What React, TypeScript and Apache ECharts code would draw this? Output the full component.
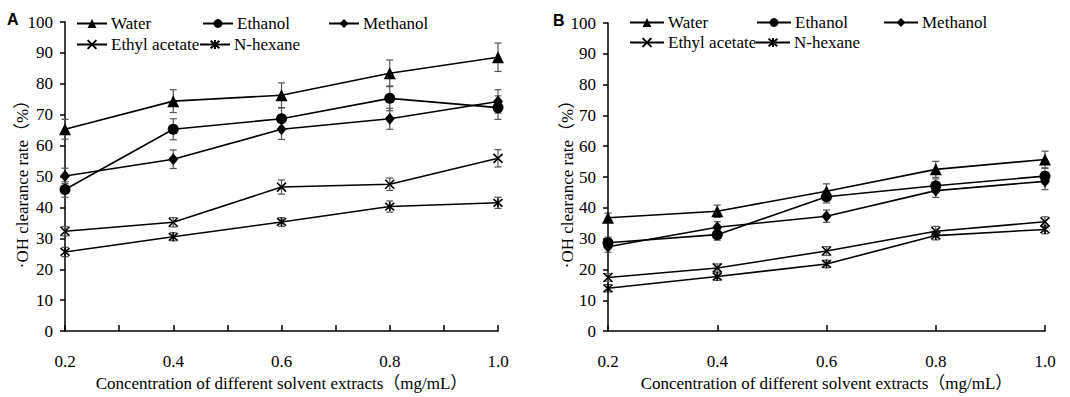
import React, { useEffect, useRef } from "react";
import * as echarts from "echarts";

const concentrations = [0.2, 0.4, 0.6, 0.8, 1.0];
const seriesNames = ["Water", "Ethanol", "Methanol", "Ethyl acetate", "N-hexane"];

// Panel A values (%)
const waterA = [65.3, 74.4, 76.3, 83.4, 88.6];
const ethanolA = [45.8, 65.3, 68.7, 75.3, 72.3];
const methanolA = [50.2, 55.6, 65.3, 68.7, 74.3];
const ethylA = [32.3, 35.2, 46.6, 47.5, 55.9];
const hexaneA = [25.6, 30.5, 35.3, 40.3, 41.5];
// Panel A error (±)
const waterAErr = [3.2, 3.7, 4.0, 4.3, 4.6];
const ethanolAErr = [2.5, 3.4, 3.5, 4.0, 3.8];
const methanolAErr = [2.5, 3.0, 3.3, 3.4, 3.8];
const ethylAErr = [1.5, 1.5, 2.3, 2.0, 2.8];
const hexaneAErr = [1.5, 1.3, 1.4, 1.8, 1.8];

// Panel B values (%)
const waterB = [36.8, 38.9, 45.4, 52.5, 55.7];
const ethanolB = [28.7, 31.3, 43.6, 47.2, 50.3];
const methanolB = [27.4, 33.7, 37.3, 45.6, 48.6];
const ethylB = [17.4, 20.5, 26.0, 32.4, 35.5];
const hexaneB = [13.9, 17.7, 21.8, 31.0, 33.0];
// Panel B error (±)
const waterBErr = [1.5, 2.0, 2.4, 2.6, 2.7];
const ethanolBErr = [1.8, 1.8, 2.0, 2.2, 2.5];
const methanolBErr = [1.8, 1.8, 2.0, 2.2, 2.7];
const ethylBErr = [1.2, 1.3, 1.4, 1.6, 1.6];
const hexaneBErr = [1.2, 1.2, 1.2, 1.4, 1.4];

const yTitle = "·OH clearance rate（%）";
const xTitle = "Concentration of different solvent extracts（mg/mL）";

const SERIF = "Liberation Serif, Noto Sans CJK SC";
const SERIF_PLAIN = "Liberation Serif";

const xSymbol = "path://M0,0L10,10M10,0L0,10";
const starSymbol = "path://M0,0L10,10M10,0L0,10M5,-1L5,11";

const symbolDefs: Record<string, { symbol: string; size: number | number[] }> = {
  Water: { symbol: "triangle", size: 12 },
  Ethanol: { symbol: "circle", size: 11 },
  Methanol: { symbol: "diamond", size: [10, 12] },
  "Ethyl acetate": { symbol: xSymbol, size: 9 },
  "N-hexane": { symbol: starSymbol, size: 9 },
};

function lineSeries(name: string, values: number[], idx: number) {
  const def = symbolDefs[name];
  return {
    type: "line",
    name,
    xAxisIndex: idx,
    yAxisIndex: idx,
    data: concentrations.map((c, i) => [c, values[i]]),
    symbol: def.symbol,
    symbolSize: def.size,
    z: 3,
    lineStyle: { color: "#000", width: 1.6 },
    itemStyle: { color: "#000", borderColor: "#000", borderWidth: def.symbol.startsWith("path") ? 1.6 : 0 },
  };
}

function errorSeries(name: string, values: number[], errs: number[], idx: number) {
  return {
    type: "custom",
    name: name + " err",
    xAxisIndex: idx,
    yAxisIndex: idx,
    z: 2,
    data: concentrations.map((c, i) => [c, values[i] - errs[i], values[i] + errs[i]]),
    renderItem: (params: any, api: any) => {
      const lo = api.coord([api.value(0), api.value(1)]);
      const hi = api.coord([api.value(0), api.value(2)]);
      const w = 3.5;
      const st = { stroke: "#555", lineWidth: 1.2 };
      return {
        type: "group",
        children: [
          { type: "line", shape: { x1: lo[0], y1: lo[1], x2: hi[0], y2: hi[1] }, style: st },
          { type: "line", shape: { x1: lo[0] - w, y1: lo[1], x2: lo[0] + w, y2: lo[1] }, style: st },
          { type: "line", shape: { x1: hi[0] - w, y1: hi[1], x2: hi[0] + w, y2: hi[1] }, style: st },
        ],
      };
    },
  };
}

function legendItem(name: string, left: number, top: number, itemWidth: number) {
  return {
    data: [name],
    left,
    top,
    itemWidth,
    itemHeight: 11,
    itemGap: 0,
    padding: 0,
    selectedMode: false,
    textStyle: { fontFamily: SERIF_PLAIN, fontSize: 17, color: "#000", padding: [0, 0, 0, -1] },
  };
}

export default function App() {
  const ref = useRef<HTMLDivElement>(null);
  useEffect(() => {
    if (!ref.current) return;
    const chart = echarts.init(ref.current, undefined, { renderer: "svg" });

    const axisLineStyle = { color: "#000", width: 1.5 };
    const xAxisBase = (idx: number, interval: number) => ({
      type: "value",
      gridIndex: idx,
      min: 0.2,
      max: 1.0,
      interval,
      splitLine: { show: false },
      axisLine: { show: true, lineStyle: axisLineStyle },
      axisTick: { show: true, inside: true, length: 6, lineStyle: axisLineStyle },
      axisLabel: {
        fontFamily: SERIF_PLAIN,
        fontSize: 17,
        color: "#000",
        margin: 22,
        formatter: (v: number) => {
          const r = Math.round(v * 10);
          return r % 2 === 0 ? (r / 10).toFixed(1) : "";
        },
      },
      name: xTitle,
      nameLocation: "middle",
      nameGap: 42,
      nameTextStyle: { fontFamily: SERIF, fontSize: 17, color: "#000" },
    });
    const yAxisBase = (idx: number) => ({
      type: "value",
      gridIndex: idx,
      min: 0,
      max: 100,
      interval: 10,
      splitLine: { show: false },
      axisLine: { show: true, lineStyle: axisLineStyle },
      axisTick: { show: true, inside: false, length: 5, lineStyle: axisLineStyle },
      axisLabel: { fontFamily: SERIF_PLAIN, fontSize: 17, color: "#000", margin: 12 },
    });

    const valsA = [waterA, ethanolA, methanolA, ethylA, hexaneA];
    const errsA = [waterAErr, ethanolAErr, methanolAErr, ethylAErr, hexaneAErr];
    const valsB = [waterB, ethanolB, methanolB, ethylB, hexaneB];
    const errsB = [waterBErr, ethanolBErr, methanolBErr, ethylBErr, hexaneBErr];

    const series: any[] = [];
    seriesNames.forEach((n, i) => series.push(errorSeries(n + " A", valsA[i], errsA[i], 0)));
    seriesNames.forEach((n, i) => series.push(errorSeries(n + " B", valsB[i], errsB[i], 1)));
    seriesNames.forEach((n, i) => series.push(lineSeries(n, valsA[i], 0)));
    seriesNames.forEach((n, i) => series.push(lineSeries(n, valsB[i], 1)));

    const yName = (x: number, y: number) => ({
      type: "text",
      x,
      y,
      rotation: Math.PI / 2,
      style: {
        text: yTitle,
        font: "17px " + SERIF,
        fill: "#000",
        align: "center",
        verticalAlign: "middle",
      },
    });

    chart.setOption({
      animation: false,
      backgroundColor: "#fff",
      textStyle: { fontFamily: SERIF_PLAIN },
      grid: [
        { left: 65, top: 22, width: 433, height: 312 },
        { left: 608, top: 23, width: 437, height: 310 },
      ],
      xAxis: [xAxisBase(0, 0.1), xAxisBase(1, 0.2)],
      yAxis: [yAxisBase(0), yAxisBase(1)],
      legend: [
        legendItem("Water", 76, 15, 30),
        legendItem("Ethanol", 202, 15, 30),
        legendItem("Methanol", 328, 15, 30),
        legendItem("Ethyl acetate", 76, 36, 30),
        legendItem("N-hexane", 199, 36, 30),
        legendItem("Water", 629, 14, 34),
        legendItem("Ethanol", 756, 14, 34),
        legendItem("Methanol", 883, 14, 34),
        legendItem("Ethyl acetate", 629, 34, 34),
        legendItem("N-hexane", 755, 34, 34),
      ],
      graphic: [
        { type: "text", left: 7, top: 11, style: { text: "A", font: "bold 16px Liberation Sans", fill: "#000" } },
        { type: "text", left: 553, top: 12, style: { text: "B", font: "bold 16px Liberation Sans", fill: "#000" } },
        yName(22, 180),
        yName(567, 180),
      ],
      series,
    });
    return () => chart.dispose();
  }, []);
  return (
    <div
      ref={ref}
      style={{ position: "fixed", left: 0, top: 0, width: 1070, height: 397, background: "#fff" }}
    />
  );
}
